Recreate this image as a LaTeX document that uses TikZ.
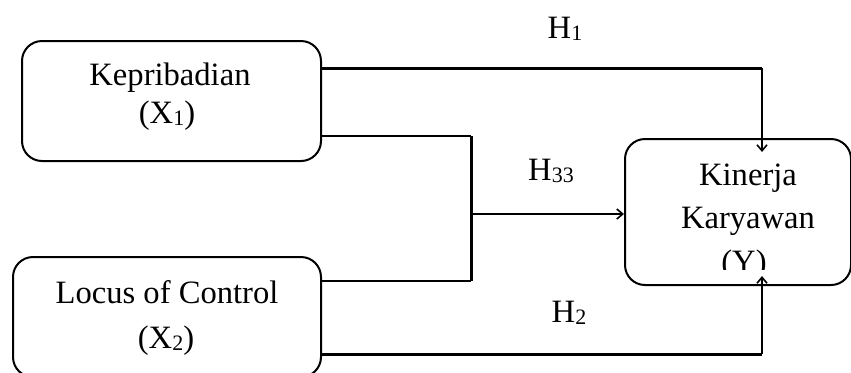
\documentclass[tikz,border=0pt]{standalone}
\usepackage{fontspec}
\setmainfont{Liberation Serif}
\usetikzlibrary{arrows.meta}
% small lowered index digit
\newcommand{\subidx}[1]{\raisebox{-1pt}{\fontsize{11}{11}\selectfont #1}}
\begin{document}
\begin{tikzpicture}[x=0.5pt,y=-0.5pt,
  varbox/.style={draw, line width=1pt, rounded corners=10pt, inner sep=0pt},
  txt/.style={anchor=base, inner sep=0pt, font=\fontsize{16.3}{16.3}\selectfont},
  thickline/.style={line width=1.5pt},
  thinline/.style={line width=0.8pt},
  tip/.style={-{Straight Barb[length=3pt,width=5pt]}, line width=0.8pt}]
\useasboundingbox (0,0) rectangle (851,372);

% variable boxes
\node[varbox, minimum width=149.5pt, minimum height=60pt] (x1) at (171.5,101) {};
\node[varbox, minimum width=154pt, minimum height=60pt] (x2) at (167,317) {};
\node[varbox, minimum width=113pt, minimum height=73pt] (y) at (738,212) {};

% box texts
\node[txt] (x1a) at (170,85) {Kepribadian};
\node[txt] (x1b) at (167,123) {(X\subidx{1})};
\node[txt] (x2a) at (167,303) {Locus of Control};
\node[txt] (x2b) at (166,348) {(X\subidx{2})};
\node[txt] (ya) at (748,185) {Kinerja};
\node[txt] (yb) at (748,228) {Karyawan};
\begin{scope}
  \clip (625,139) rectangle (851,269);
  \node[txt] (yc) at (744,272) {(Y)};
\end{scope}

% hypothesis labels
\node[txt] (h1) at (565,38) {H\subidx{1}};
\node[txt] (h3) at (551,180) {H\subidx{33}};
\node[txt] (h2) at (569,322) {H\subidx{2}};

% routing points
\coordinate (h1c) at (762,68);
\coordinate (t1) at (762,152);
\coordinate (jt) at (471,136);
\coordinate (jb) at (471,281);
\coordinate (jm) at (471,214);
\coordinate (h2c) at (762,354);
\coordinate (t2) at (762,276);

% H1
\draw[thickline] (x1.east |- h1c) -- (h1c);
\draw[tip] (h1c) -- (t1);
% H3 (joint path)
\draw[thinline] (x1.east |- jt) -- (jt);
\draw[thinline] (x2.east |- jb) -- (jb);
\draw[thickline] (jt) -- (jb);
\draw[tip] (jm) -- (y.west |- jm);
% H2
\draw[thickline] (x2.east |- h2c) -- (h2c);
\draw[tip] (h2c) -- (t2);
\end{tikzpicture}
\end{document}
